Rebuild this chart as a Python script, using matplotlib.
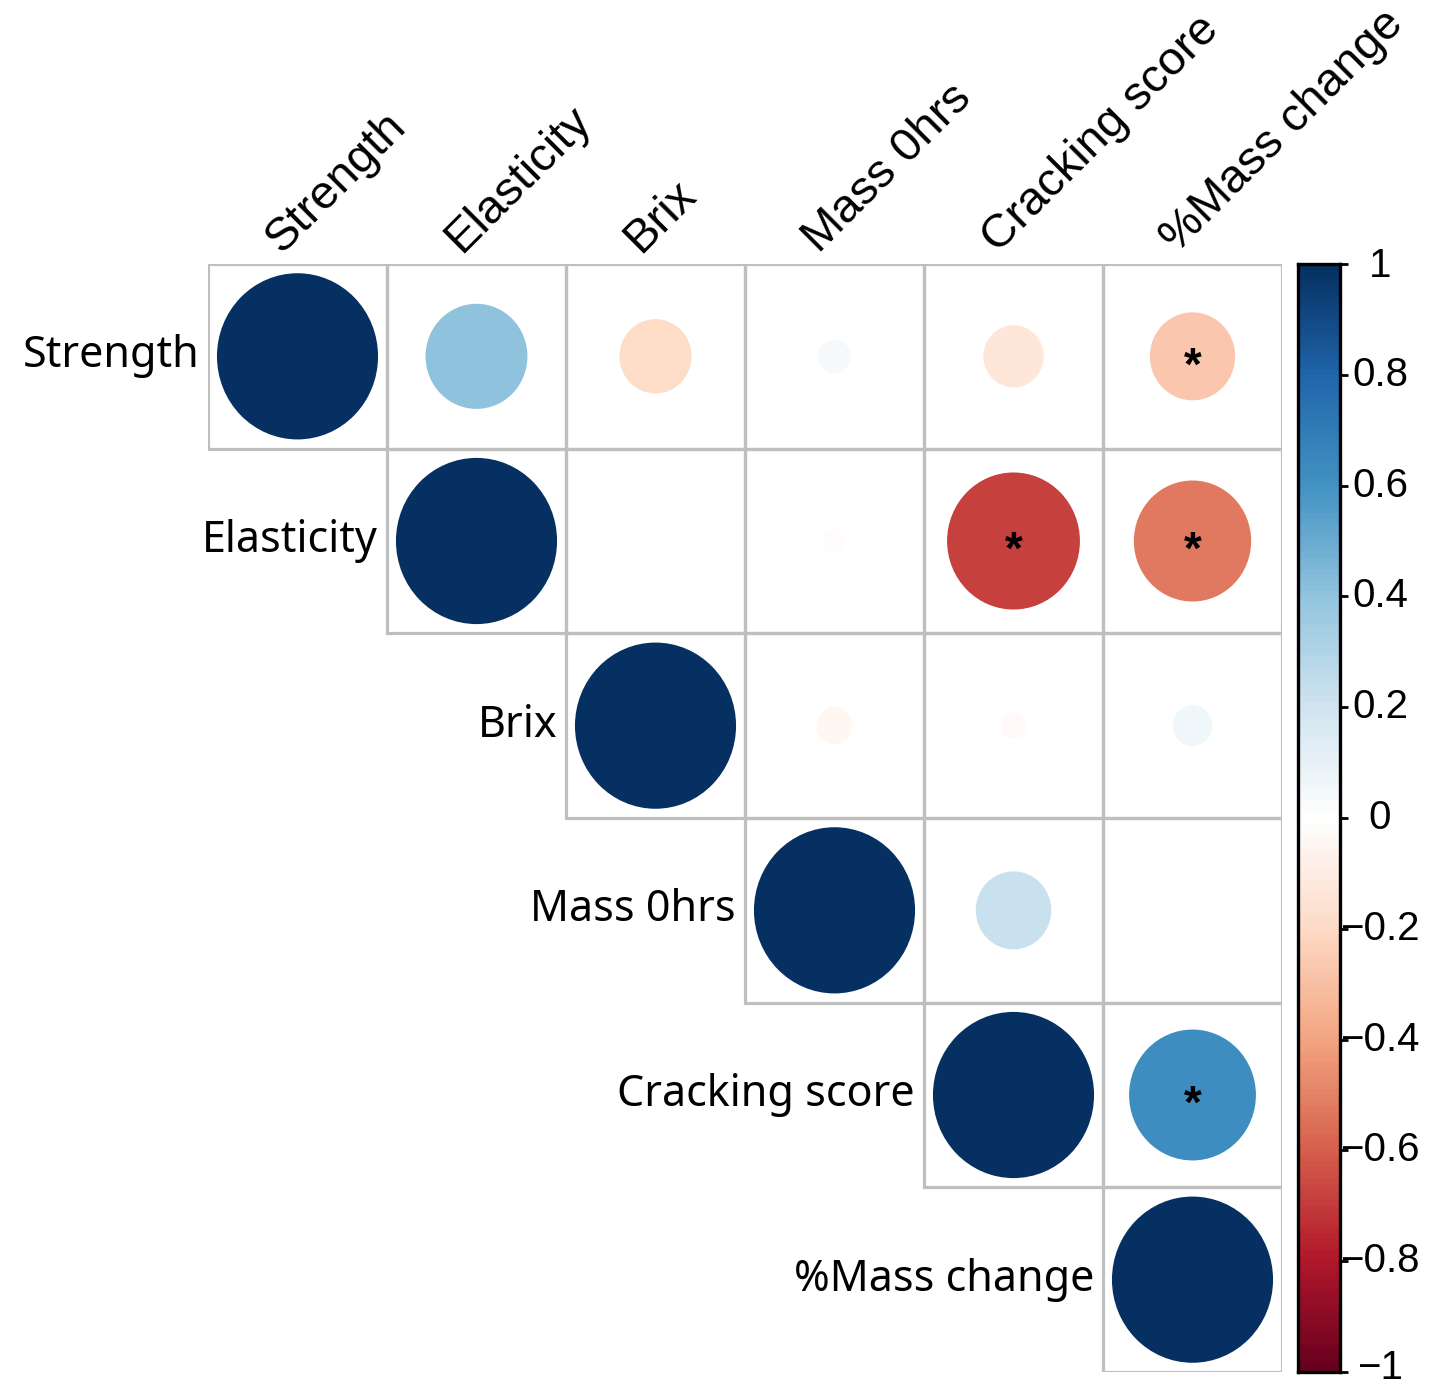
import numpy as np
import matplotlib
matplotlib.use("Agg")
import matplotlib.pyplot as plt
from matplotlib.colors import LinearSegmentedColormap, Normalize
from matplotlib.patches import Ellipse, Rectangle

# ---- data ----
variables = ["Strength", "Elasticity", "Brix", "Mass 0hrs", "Cracking score", "%Mass change"]
# upper-triangle correlations, row by row (from diagonal to the right)
row_strength   = [1.00, 0.40, -0.20, 0.04, -0.14, -0.28]
row_elasticity = [1.00, 0.005, -0.02, -0.68, -0.53]
row_brix       = [1.00, -0.05, -0.025, 0.06]
row_mass0      = [1.00, 0.22, 0.00]
row_cracking   = [1.00, 0.62]
row_massch     = [1.00]
# significant cells (row, col) marked with '*'
significant = [(0, 5), (1, 4), (1, 5), (4, 5)]
cbar_ticks = [1, 0.8, 0.6, 0.4, 0.2, 0, -0.2, -0.4, -0.6, -0.8, -1]
cbar_labels = ["1", "0.8", "0.6", "0.4", "0.2", "0", "\u22120.2", "\u22120.4", "\u22120.6", "\u22120.8", "\u22121"]

rows = [row_strength, row_elasticity, row_brix, row_mass0, row_cracking, row_massch]
n = len(variables)
M = np.full((n, n), np.nan)
for i, r in enumerate(rows):
    for k, v in enumerate(r):
        M[i, i + k] = v

col2 = ["#67001F", "#B2182B", "#D6604D", "#F4A582", "#FDDBC7", "#FFFFFF",
        "#D1E5F0", "#92C5DE", "#4393C3", "#2166AC", "#053061"]
cmap = LinearSegmentedColormap.from_list("corrRdBu", col2, N=200)
norm = Normalize(-1, 1)

W, H = 1434, 1387
fig = plt.figure(figsize=(W / 100, H / 100), dpi=100)
x0, x1, y0, y1 = 208, 1282, 264, 1372
ax = fig.add_axes([x0 / W, 1 - y1 / H, (x1 - x0) / W, (y1 - y0) / H])
ax.set_xlim(0, n)
ax.set_ylim(n, 0)
ax.axis("off")

grid_col = "#bfbfbf"
for i in range(n):
    for j in range(i, n):
        ax.add_patch(Rectangle((j, i), 1, 1, fill=False, edgecolor=grid_col, lw=2.3, zorder=1))
        v = M[i, j]
        d = 0.9 * np.sqrt(abs(v))
        if d > 0:
            ax.add_patch(Ellipse((j + 0.5, i + 0.5), d, d, facecolor=cmap(norm(v)),
                                 edgecolor="none", zorder=2))
for (i, j) in significant:
    ax.text(j + 0.5, i + 0.56, "*", ha="center", va="center", fontsize=33,
            fontweight="bold", family="Liberation Sans", zorder=3)

# row labels
for i, name in enumerate(variables):
    ax.text(i - 0.05, i + 0.5, name, ha="right", va="center", fontsize=31,
            family="Noto Sans", clip_on=False)
# column labels
for j, name in enumerate(variables):
    ax.text(j + 0.5 - 0.085, -0.055, name, ha="left", va="baseline", rotation=45,
            rotation_mode="anchor", fontsize=34, family="Liberation Sans", clip_on=False)

# colorbar
cx0, cx1 = 1298, 1340
cax = fig.add_axes([cx0 / W, 1 - y1 / H, (cx1 - cx0) / W, (y1 - y0) / H])
grad = np.linspace(1, -1, 200).reshape(-1, 1)
cax.imshow(grad, cmap=cmap, norm=norm, aspect="auto", extent=[0, 1, -1, 1],
           interpolation="nearest")
cax.set_xlim(0, 1)
cax.set_ylim(-1, 1)
cax.set_xticks([])
for s in cax.spines.values():
    s.set_linewidth(2.4)
    s.set_color("black")
cax.yaxis.tick_right()
cax.set_yticks(cbar_ticks)
cax.set_yticklabels([])
cax.tick_params(axis="y", length=6, width=2.0, direction="out", right=True, left=False)
for t, lab in zip(cbar_ticks, cbar_labels):
    yy = t
    if t == 1:
        yy = t - 0.004
    elif t == -1:
        yy = t + 0.008
    cax.text(1.95, yy, lab, ha="center", va="center", fontsize=29,
             family="Liberation Sans", transform=cax.get_yaxis_transform(), clip_on=False)

fig.savefig("out.png", dpi=100, facecolor="white")
